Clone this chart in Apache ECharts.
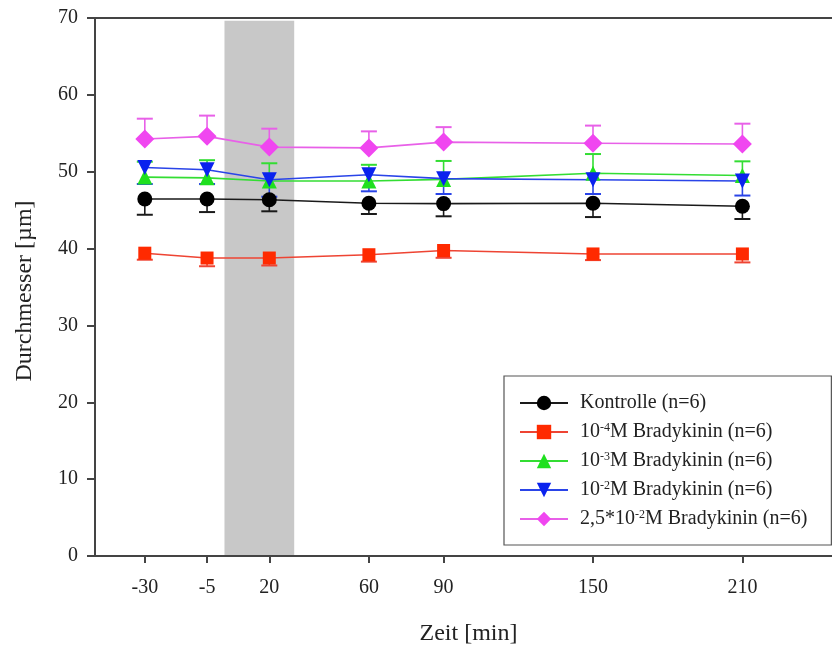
<!DOCTYPE html>
<html>
<head>
<meta charset="utf-8">
<script src="https://cdn.jsdelivr.net/npm/echarts@6/dist/echarts.min.js"></script>
<style>
  html, body { margin: 0; padding: 0; background: #fff; overflow: hidden; }
  #chart { width: 832px; height: 645px; }
</style>
</head>
<body>
<div id="chart"></div>
<script>
// ---- data ----
const times = [-30, -5, 20, 60, 90, 150, 210];
const xTicks = [-30, -5, 20, 60, 90, 150, 210];
const shadeRange = [2, 30];

const kontrolleMean = [46.45, 46.45, 46.35, 45.9, 45.85, 45.9, 45.5];
const kontrolleErr  = [2.05, 1.7, 1.5, 1.4, 1.65, 1.8, 1.65];

const brady4Mean = [39.4, 38.77, 38.77, 39.2, 39.75, 39.3, 39.3];
const brady4Err  = [0.85, 1.07, 0.97, 0.9, 0.95, 0.8, 1.1];

const brady3Mean = [49.3, 49.2, 48.8, 48.8, 49.0, 49.8, 49.5];
const brady3Err  = [2.0, 2.3, 2.3, 2.1, 2.4, 2.5, 1.85];

const brady2Mean = [50.55, 50.25, 48.95, 49.6, 49.1, 48.95, 48.8];
const brady2Err  = [2.15, 1.85, 2.2, 2.15, 2.0, 1.85, 1.9];

const brady25Mean = [54.25, 54.6, 53.2, 53.1, 53.85, 53.7, 53.6];
const brady25Err  = [2.65, 2.7, 2.4, 2.15, 1.95, 2.3, 2.65];

const seriesNames = ['Kontrolle (n=6)', '10-4M Bradykinin (n=6)', '10-3M Bradykinin (n=6)', '10-2M Bradykinin (n=6)', '2,5*10-2M Bradykinin (n=6)'];
const legendLabels = ['Kontrolle (n=6)', '10{s|-4}M Bradykinin (n=6)', '10{s|-3}M Bradykinin (n=6)', '10{s|-2}M Bradykinin (n=6)', '2,5*10{s|-2}M Bradykinin (n=6)'];

// ---- styles ----
const FONT = 'Liberation Serif';
const defs = [
  { mean: kontrolleMean, err: kontrolleErr, dir: -1, symbol: 'circle', size: 15, marker: '#000000', line: '#1a1a1a', bar: '#1a1a1a' },
  { mean: brady4Mean, err: brady4Err, dir: -1, symbol: 'rect', size: 13, marker: '#ff2a00', line: '#ee4433', bar: '#ee4433' },
  { mean: brady3Mean, err: brady3Err, dir: 1, symbol: 'triangle', size: 15, marker: '#1fe01f', line: '#33dd33', bar: '#33dd33' },
  { mean: brady2Mean, err: brady2Err, dir: -1, symbol: 'path://M0,0 L10,0 L5,9 Z', size: 15, marker: '#0a22ee', line: '#2a44e8', bar: '#2a44e8' },
  { mean: brady25Mean, err: brady25Err, dir: 1, symbol: 'diamond', size: 19, marker: '#f046f0', line: '#e860e8', bar: '#e860e8' }
];

const series = [];
defs.forEach(function (d, i) {
  const barData = times.map(function (t, k) { return [t, d.mean[k], d.mean[k] + d.dir * d.err[k]]; });
  series.push({
    type: 'custom',
    name: seriesNames[i] + ' err',
    data: barData,
    encode: { x: 0, y: [1, 2] },
    z: 2,
    silent: true,
    renderItem: function (params, api) {
      const p0 = api.coord([api.value(0), api.value(1)]);
      const p1 = api.coord([api.value(0), api.value(2)]);
      const hw = 8;
      return {
        type: 'group',
        children: [
          { type: 'line', shape: { x1: p0[0], y1: p0[1], x2: p1[0], y2: p1[1] }, style: { stroke: d.bar, lineWidth: 1.6 } },
          { type: 'line', shape: { x1: p1[0] - hw, y1: p1[1], x2: p1[0] + hw, y2: p1[1] }, style: { stroke: d.bar, lineWidth: 2 } }
        ]
      };
    }
  });
});
defs.forEach(function (d, i) {
  const s = {
    type: 'line',
    name: seriesNames[i],
    data: times.map(function (t, k) { return [t, d.mean[k]]; }),
    symbol: d.symbol,
    symbolSize: d.size,
    showAllSymbol: true,
    z: 3,
    lineStyle: { color: d.line, width: 1.6 },
    itemStyle: { color: d.marker, borderWidth: 0 },
    emphasis: { disabled: true },
    silent: true
  };
  if (i === 0) {
    s.markArea = {
      silent: true,
      itemStyle: { color: '#c8c8c8' },
      data: [[{ xAxis: shadeRange[0], yAxis: 0 }, { xAxis: shadeRange[1], yAxis: 69.65 }]]
    };
  }
  series.push(s);
});

const chart = echarts.init(document.getElementById('chart'), null, { renderer: 'canvas' });
chart.setOption({
  animation: false,
  backgroundColor: '#ffffff',
  grid: {
    left: 95, top: 18, width: 747, height: 538,
    outerBoundsMode: 'none',
    containLabel: false,
    show: true, borderColor: '#444', borderWidth: 2, backgroundColor: 'transparent'
  },
  xAxis: {
    type: 'value',
    min: -50, max: 250,
    z: 5,
    name: 'Zeit [min]',
    nameLocation: 'middle',
    nameGap: 66,
    nameTextStyle: { fontFamily: FONT, fontSize: 24, color: '#222' },
    axisLine: { show: true, onZero: false, lineStyle: { color: '#444', width: 2 } },
    axisTick: { show: true, length: 7, customValues: xTicks, lineStyle: { color: '#444', width: 2 } },
    axisLabel: { customValues: xTicks, fontFamily: FONT, fontSize: 20, color: '#222', margin: 22 },
    splitLine: { show: false }
  },
  yAxis: {
    type: 'value',
    min: 0, max: 70, interval: 10,
    z: 5,
    name: 'Durchmesser [µm]',
    nameLocation: 'middle',
    nameGap: 58,
    nameTextStyle: { fontFamily: FONT, fontSize: 24, color: '#222', padding: [0, 8, 0, 0] },
    axisLine: { show: true, onZero: false, lineStyle: { color: '#444', width: 2 } },
    axisTick: { show: true, length: 8, lineStyle: { color: '#444', width: 2 } },
    axisLabel: { fontFamily: FONT, fontSize: 20, color: '#222', margin: 17 },
    splitLine: { show: false }
  },
  legend: {
    orient: 'vertical',
    left: 504, top: 376,
    padding: [17, 24, 16, 15],
    borderColor: '#555', borderWidth: 1.2,
    backgroundColor: '#fff',
    itemWidth: 48, itemHeight: 18, itemGap: 9,
    data: seriesNames,
    selectedMode: false,
    formatter: function (name) { return legendLabels[seriesNames.indexOf(name)]; },
    textStyle: {
      fontFamily: FONT, fontSize: 20, color: '#222', lineHeight: 20,
      padding: [0, 0, 0, 7],
      rich: {
        s: { fontFamily: FONT, fontSize: 12, lineHeight: 20, verticalAlign: 'top', color: '#222' }
      }
    }
  },
  series: series
});
</script>
</body>
</html>
